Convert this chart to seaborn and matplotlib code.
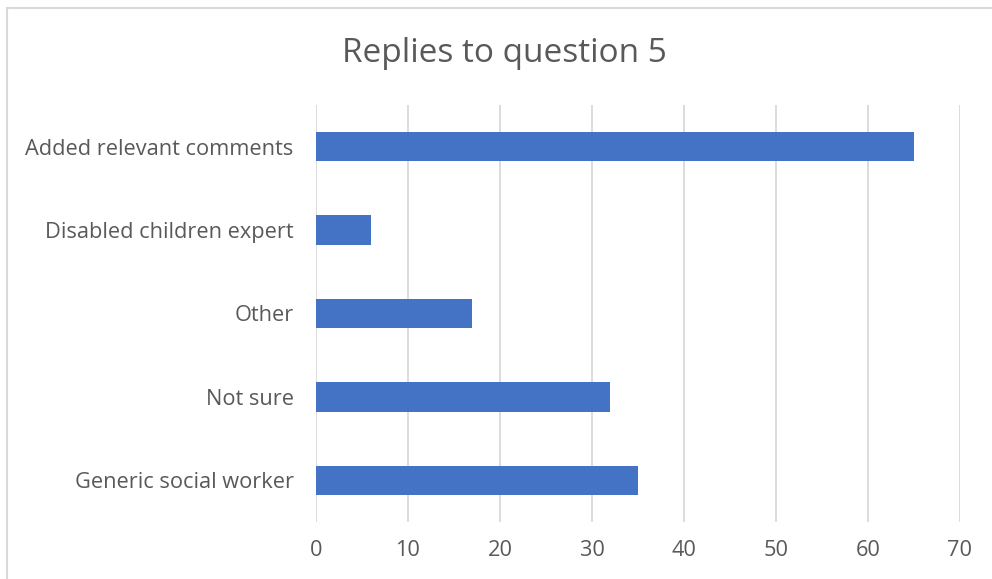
import pandas as pd
import seaborn as sns
import matplotlib.pyplot as plt
from matplotlib.patches import Rectangle

categories = ["Added relevant comments", "Disabled children expert", "Other",
              "Not sure", "Generic social worker"]
replies = [65, 6, 17, 32, 35]
x_ticks = [0, 10, 20, 30, 40, 50, 60, 70]

df = pd.DataFrame({"Reply": categories, "Count": replies})

sns.set_style("white")
plt.rcParams["font.family"] = ["Open Sans", "DejaVu Sans"]

fig = plt.figure(figsize=(9.92, 5.79), dpi=100)
ax = fig.add_axes([0.3185, 0.0984, 0.6492, 0.7203])

sns.barplot(data=df, x="Count", y="Reply", color="#4472C4", width=0.35,
            saturation=1, linewidth=0, ax=ax, zorder=3)

ax.set_xlim(0, 70)
ax.set_ylim(4.5, -0.5)
ax.set_xticks(x_ticks)
ax.grid(axis="x", color="#D9D9D9", linewidth=1.3, zorder=0)
for s in ax.spines.values():
    s.set_visible(False)
ax.tick_params(axis="both", length=0, labelsize=15.7, labelcolor="#595959")
ax.tick_params(axis="x", pad=13)
ax.tick_params(axis="y", pad=16)
ax.set_xlabel("")
ax.set_ylabel("")

fig.text(0.509, 0.908, "Replies to question 5", ha="center", va="center",
         fontsize=24, color="#595959")

fig.patches.append(Rectangle((7 / 992, -0.05), 1.1, 1 - 8 / 579 + 0.05,
                             transform=fig.transFigure, fill=False,
                             edgecolor="#D9D9D9", linewidth=1.5))

fig.savefig("out.png", dpi=100)
